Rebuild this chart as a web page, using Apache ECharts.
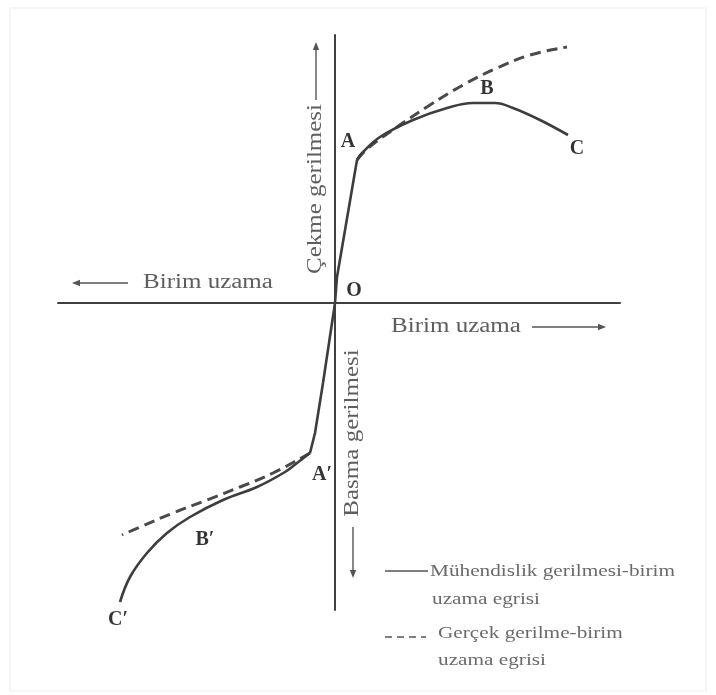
<!DOCTYPE html>
<html>
<head>
<meta charset="utf-8">
<script src="https://cdn.jsdelivr.net/npm/echarts@6/dist/echarts.min.js"></script>
<style>
html, body { margin: 0; padding: 0; background: #fff; }
#chart { width: 716px; height: 695px; }
</style>
</head>
<body>
<div id="chart"></div>
<script>
// Strain (x) and stress (y) in arbitrary units; tension positive, compression negative.

// Linear-elastic part, from A' through the origin O up to A
const elasticPart = [[-2.5, -15.0], [-2.0, -13.0], [-1.2, -8.0], [0, 0], [0.2, 2.6], [2.2, 14.3]];

// Engineering stress-strain, tension side: A -> B -> C
const tensionEngineering = [[2.2, 14.3], [2.7, 15.0], [4.5, 16.6], [7.8, 18.3], [11.2, 19.5],
  [13.8, 20.0], [16.0, 20.0], [17.8, 19.5], [20.5, 18.3], [23.3, 16.8]];

// True stress-strain, tension side
const tensionTrue = [[2.2, 14.3], [3.2, 15.4], [6.2, 17.6], [9.5, 19.8], [12.8, 21.8],
  [16.2, 23.5], [19.5, 24.8], [23.2, 25.6]];

// Engineering stress-strain, compression side: A' -> B' -> C'
const compressionEngineering = [[-2.5, -15.0], [-3.8, -16.0], [-5.0, -16.9], [-7.8, -18.4],
  [-11.2, -19.7], [-14.5, -21.4], [-16.8, -23.0], [-18.8, -25.0], [-20.5, -27.4], [-21.5, -29.9]];

// True stress-strain, compression side
const compressionTrue = [[-2.5, -15.0], [-3.2, -15.4], [-6.2, -17.0], [-9.5, -18.4],
  [-12.8, -19.7], [-16.2, -21.0], [-19.5, -22.4], [-21.3, -23.2]];

// Named points on the curves
const pointNames = ['O', 'A', 'B', 'C', 'A\u2032', 'B\u2032', 'C\u2032'];
const pointValues = [
  elasticPart[3],
  tensionEngineering[0],
  tensionEngineering[5],
  tensionEngineering[9],
  compressionEngineering[0],
  compressionEngineering[4],
  compressionEngineering[9]
];
// label offsets (px) for each named point
const pointOffsets = [[19, -12], [-9, -18], [14, -14], [9, 14], [12, 22], [-18, 40], [-2, 18]];

const axisTitleH = 'Birim uzama';
const axisTitleTension = 'Çekme gerilmesi';
const axisTitleCompression = 'Basma gerilmesi';
const legendEngineering = ['Mühendislik gerilmesi-birim', 'uzama egrisi'];
const legendTrue = ['Gerçek gerilme-birim', 'uzama egrisi'];

const chart = echarts.init(document.getElementById('chart'));

const curveColor = '#3d3d3d';
const textColor = '#5e5e5e';
const serif = '"Liberation Serif", "DejaVu Serif", serif';

function stretchedText(x, y, text, opts) {
  opts = opts || {};
  return {
    type: 'text',
    x: x, y: y,
    scaleX: 1.25,
    rotation: opts.rotation || 0,
    silent: true,
    style: {
      text: text,
      x: 0, y: 0,
      fill: opts.fill || textColor,
      font: (opts.size || 20) + 'px ' + serif,
      align: opts.align || 'center',
      verticalAlign: 'middle'
    }
  };
}

function arrow(x1, y1, x2, y2) {
  // line from (x1,y1) to tip (x2,y2) with a filled head
  const ang = Math.atan2(y2 - y1, x2 - x1);
  const len = 8, half = 3.2;
  const bx = x2 - len * Math.cos(ang), by = y2 - len * Math.sin(ang);
  const px = -Math.sin(ang) * half, py = Math.cos(ang) * half;
  return [
    { type: 'line', silent: true,
      shape: { x1: x1, y1: y1, x2: bx, y2: by },
      style: { stroke: '#555', lineWidth: 1.4 } },
    { type: 'polygon', silent: true,
      shape: { points: [[x2, y2], [bx + px, by + py], [bx - px, by - py]] },
      style: { fill: '#555' } }
  ];
}

const graphics = [
  { type: 'rect', silent: true, z: -1,
    shape: { x: 10, y: 8, width: 696, height: 683 },
    style: { fill: 'none', stroke: '#ededed', lineWidth: 1 } },
  stretchedText(208, 283, axisTitleH),
  stretchedText(456, 327, axisTitleH),
  stretchedText(316, 189, axisTitleTension, { rotation: Math.PI / 2 }),
  stretchedText(353, 433, axisTitleCompression, { rotation: Math.PI / 2 }),
  ...arrow(128, 283, 72, 283),
  ...arrow(532, 327, 606, 327),
  ...arrow(316, 100, 316, 42),
  ...arrow(353, 527, 353, 578),
  // legend
  { type: 'line', silent: true, shape: { x1: 385, y1: 571, x2: 428, y2: 571 },
    style: { stroke: '#555', lineWidth: 1.5 } },
  stretchedText(430, 572, legendEngineering[0], { size: 17, align: 'left', fill: '#6a6a6a' }),
  stretchedText(432, 600, legendEngineering[1], { size: 17, align: 'left', fill: '#6a6a6a' }),
  { type: 'line', silent: true, shape: { x1: 385, y1: 637, x2: 426, y2: 637 },
    style: { stroke: '#555', lineWidth: 1.5, lineDash: [7, 5] } },
  stretchedText(438, 634, legendTrue[0], { size: 17, align: 'left', fill: '#6a6a6a' }),
  stretchedText(438, 661, legendTrue[1], { size: 17, align: 'left', fill: '#6a6a6a' })
];

const solidStyle = { color: curveColor, width: 2.6, type: 'solid' };
const dashedStyle = { color: '#4a4a4a', width: 3, type: [11, 6] };

function curve(name, data, style, smooth) {
  return {
    name: name,
    type: 'line',
    data: data,
    smooth: smooth,
    showSymbol: false,
    symbol: 'none',
    clip: false,
    silent: true,
    lineStyle: style,
    z: style.type === 'solid' ? 3 : 2
  };
}

chart.setOption({
  animation: false,
  backgroundColor: '#fff',
  grid: { left: 58, top: 35, width: 562, height: 575, containLabel: false },
  xAxis: {
    type: 'value', min: -27.7, max: 28.5,
    axisLine: { show: true, onZero: true, lineStyle: { color: '#404040', width: 2 } },
    axisTick: { show: false }, axisLabel: { show: false }, splitLine: { show: false }
  },
  yAxis: {
    type: 'value', min: -30.7, max: 26.8,
    axisLine: { show: true, onZero: true, lineStyle: { color: '#404040', width: 2 } },
    axisTick: { show: false }, axisLabel: { show: false }, splitLine: { show: false }
  },
  series: [
    curve('elastic', elasticPart, solidStyle, false),
    curve('tension-engineering', tensionEngineering, solidStyle, 0.4),
    curve('tension-true', tensionTrue, dashedStyle, 0.4),
    curve('compression-engineering', compressionEngineering, solidStyle, 0.4),
    curve('compression-true', compressionTrue, dashedStyle, 0.4),
    {
      type: 'scatter',
      silent: true,
      clip: false,
      symbolSize: 0,
      z: 5,
      data: pointNames.map((n, i) => ({
        name: n,
        value: pointValues[i],
        label: { offset: pointOffsets[i] }
      })),
      label: {
        show: true,
        position: 'inside',
        formatter: p => p.name,
        color: '#000',
        fontFamily: serif,
        fontWeight: 'bold',
        fontSize: 20
      }
    }
  ],
  graphic: graphics
});
</script>
</body>
</html>
